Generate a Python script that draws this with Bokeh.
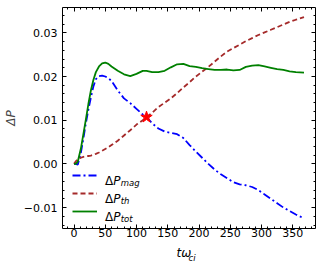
import numpy as np
from bokeh.plotting import figure
from bokeh.models import LinearAxis, FixedTicker, Label, Legend, LegendItem, Title
from bokeh.embed import file_html
from bokeh.resources import INLINE

# ---- data ----
t = [0, 3, 6, 11, 15, 19, 23, 27, 31, 35, 40, 45, 50, 55, 60, 70, 80, 90, 100, 110,
     116, 125, 135, 145, 155, 165, 175, 185, 195, 205, 215, 225, 235, 245, 255, 265,
     275, 285, 295, 305, 315, 325, 335, 345, 355, 368]

p_mag = [0.0, 0.0, -0.0002, 0.0025, 0.0058, 0.0093, 0.0124, 0.0152, 0.0177, 0.0194,
         0.0201, 0.0202, 0.0200, 0.0196, 0.0190, 0.0168, 0.0150, 0.0139, 0.0126, 0.0113,
         0.0107, 0.0093, 0.0081, 0.0074, 0.0071, 0.0068, 0.0059, 0.0043, 0.0028, 0.0014,
         0.0000, -0.0013, -0.0024, -0.0033, -0.0042, -0.0047, -0.0049, -0.0053, -0.0060,
         -0.0070, -0.0080, -0.0090, -0.0100, -0.0108, -0.0116, -0.0125]

p_th = [0.0, 0.0006, 0.0011, 0.0014, 0.0016, 0.0017, 0.0018, 0.0019, 0.0021, 0.0023,
        0.0026, 0.0030, 0.0034, 0.0038, 0.0043, 0.0053, 0.0065, 0.0077, 0.0090, 0.0100,
        0.0107, 0.0117, 0.0130, 0.0140, 0.0150, 0.0162, 0.0175, 0.0187, 0.0200, 0.0211,
        0.0222, 0.0234, 0.0246, 0.0257, 0.0265, 0.0273, 0.0281, 0.0288, 0.0295, 0.0301,
        0.0307, 0.0313, 0.0319, 0.0325, 0.0330, 0.0336]

p_tot = [0.0, 0.0, 0.0005, 0.0035, 0.0068, 0.0102, 0.0137, 0.0168, 0.0192, 0.0210,
         0.0223, 0.0230, 0.0232, 0.0229, 0.0223, 0.0213, 0.0205, 0.0201, 0.0206, 0.0213,
         0.0213, 0.0210, 0.0210, 0.0213, 0.0221, 0.0228, 0.0229, 0.0224, 0.0222, 0.0219,
         0.0217, 0.0215, 0.0215, 0.0216, 0.0214, 0.0215, 0.0222, 0.0225, 0.0226, 0.0223,
         0.0220, 0.0217, 0.0215, 0.0212, 0.0210, 0.0209]

star_t = [116]
star_p = [0.0107]

x_ticks = [0, 50, 100, 150, 200, 250, 300, 350]
x_tick_labels = ["0", "50", "100", "150", "200", "250", "300", "350"]
y_ticks = [-0.01, 0.0, 0.01, 0.02, 0.03]
y_tick_labels = ["\u22120.01", "0.00", "0.01", "0.02", "0.03"]
legend_subs = ["mag", "th", "tot"]

x_minor = [float(v) for v in np.arange(-10, 390, 10)]
y_minor = [float(round(v, 4)) for v in np.arange(-0.014, 0.0356, 0.002)]

FONT = "DejaVu Sans"

p = figure(width=322, height=267, x_range=(-18.4, 386.4), y_range=(-0.0148, 0.0358),
           output_backend="svg", toolbar_location=None,
           min_border_left=62, min_border_right=7, min_border_top=7, min_border_bottom=39)
p.xgrid.visible = False
p.ygrid.visible = False
p.outline_line_color = "black"
p.outline_line_width = 1
p.background_fill_color = "white"
p.border_fill_color = "white"


def style_axis(ax, ticks, minor, labels, show_labels, standoff):
    ax.ticker = FixedTicker(ticks=ticks, minor_ticks=minor)
    ax.axis_line_color = None
    ax.major_tick_in = 4
    ax.major_tick_out = 0
    ax.minor_tick_in = 2
    ax.minor_tick_out = 0
    ax.major_tick_line_color = "black"
    ax.minor_tick_line_color = "black"
    if show_labels:
        ax.major_label_overrides = dict(zip(ticks, labels))
        ax.major_label_text_font = FONT
        ax.major_label_text_font_size = "11px"
        ax.major_label_text_color = "black"
        ax.major_label_standoff = standoff
    else:
        ax.major_label_overrides = {tk: "" for tk in ticks}
        ax.major_label_text_font_size = "1px"
        ax.major_label_text_color = None
        ax.major_label_standoff = 0


style_axis(p.xaxis[0], x_ticks, x_minor, x_tick_labels, True, 0)
style_axis(p.yaxis[0], y_ticks, y_minor, y_tick_labels, True, 5)
top = LinearAxis()
right = LinearAxis()
style_axis(top, x_ticks, x_minor, x_tick_labels, False, 0)
style_axis(right, y_ticks, y_minor, y_tick_labels, False, 0)
p.add_layout(top, "above")
p.add_layout(right, "right")

# y axis label
p.yaxis[0].axis_label = "\u0394P"
p.yaxis[0].axis_label_text_font = FONT
p.yaxis[0].axis_label_text_font_size = "12px"
p.yaxis[0].axis_label_text_font_style = "italic"
p.yaxis[0].axis_label_standoff = 3

r_mag = p.line(t, p_mag, line_color="blue", line_width=1.8, line_dash="8 3 2 3")
r_th = p.line(t, p_th, line_color="brown", line_width=1.8, line_dash="5 3")
r_tot = p.line(t, p_tot, line_color="green", line_width=1.8)
p.scatter(star_t, star_p, marker="star", size=12, fill_color="red", line_color="red")

legend = Legend(items=[LegendItem(label=" ", renderers=[r_mag]),
                       LegendItem(label=" ", renderers=[r_th]),
                       LegendItem(label=" ", renderers=[r_tot])],
                location=(10, 8), glyph_width=25, glyph_height=18, label_height=18,
                label_width=0, label_standoff=0, spacing=0, padding=0, margin=0,
                border_line_alpha=0, background_fill_alpha=0,
                label_text_font_size="1px", label_text_color=None)
p.add_layout(legend)


def lab(text, x, y, size, style="normal"):
    p.add_layout(Label(x=x, y=y, x_units="screen", y_units="screen", text=text,
                       text_font=FONT, text_font_size=size, text_font_style=style,
                       text_color="black", text_align="left",
                       text_baseline="alphabetic"))


for i, sub in enumerate(legend_subs):
    yb = 48 - 18 * i
    lab("\u0394", 42.5, yb, "12px")
    lab("P", 50.7, yb, "12px", "italic")
    lab(sub, 58.2, yb - 2.5, "8.5px", "italic")

# x axis label: t omega_ci (two titles in the bottom panel)
p.add_layout(Title(text="t\u03c9", align="left", offset=114, vertical_align="bottom",
                   standoff=8, text_font=FONT, text_font_size="12px",
                   text_font_style="italic", text_color="black"), "below")
p.add_layout(Title(text="ci", align="left", offset=126, vertical_align="top",
                   standoff=-22, text_font=FONT, text_font_size="8.5px",
                   text_font_style="italic", text_color="black"), "below")

open("out.html", "w").write(file_html(p, INLINE))
